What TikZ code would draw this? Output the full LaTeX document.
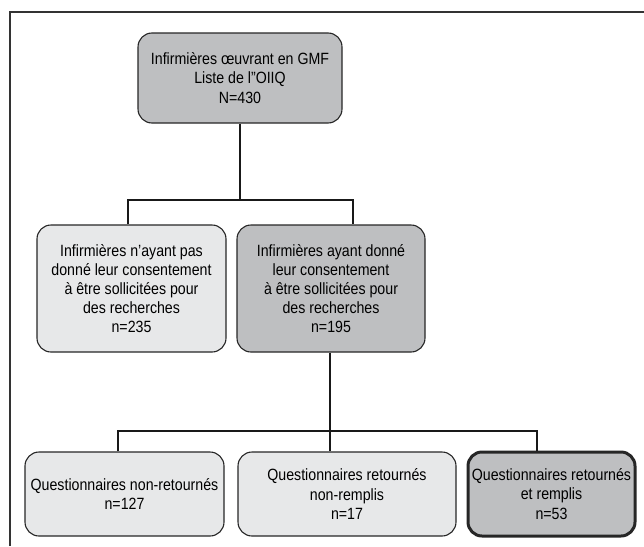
\documentclass[tikz,border=0pt]{standalone}
\usepackage{fontspec}
\setmainfont{Liberation Sans}[FakeStretch=0.87]
\usepackage{tikz}
\usetikzlibrary{positioning}
\definecolor{boxdark}{RGB}{190,191,193}
\definecolor{boxlight}{RGB}{231,232,233}
\tikzset{
  flowbox/.style={draw=black!85, line width=1.1pt, rounded corners=14pt, align=center,
    inner sep=2pt, font=\fontsize{16.3}{19.2}\selectfont},
  darkbox/.style={flowbox, fill=boxdark},
  lightbox/.style={flowbox, fill=boxlight},
  link/.style={draw=black!90, line width=2.6pt}
}
\begin{document}
\begin{tikzpicture}[x=1pt,y=-1pt]
    \useasboundingbox (0,0) rectangle (644,546);
    % cadre
    \draw[black!80, line width=1.4pt] (10,546) -- (10,12) -- (644,12);
    % boites
    \node[darkbox, minimum width=204pt, minimum height=90pt] (gmf) at (240,78)
      {Infirmières œuvrant en GMF\\Liste de l”OIIQ\\N=430};
    \node[lightbox, minimum width=189pt, minimum height=127pt] (refus) at (131.5,288.5)
      {Infirmières n’ayant pas\\donné leur consentement\\à être sollicitées pour\\des recherches\\n=235};
    \node[darkbox, minimum width=188pt, minimum height=127pt] (accord) at (331,288.5)
      {Infirmières ayant donné\\leur consentement\\à être sollicitées pour\\des recherches\\n=195};
    \node[lightbox, minimum width=199pt, minimum height=84pt] (nonret) at (124.5,494)
      {Questionnaires non-retournés\\n=127};
    \node[lightbox, minimum width=218pt, minimum height=84pt] (nonrem) at (347,494)
      {Questionnaires retournés\\non-remplis\\n=17};
    \node[darkbox, line width=3pt, minimum width=167pt, minimum height=84pt] (rempl) at (551.5,494)
      {Questionnaires retournés\\et remplis\\n=53};
    % embranchements
    \coordinate (b1) at (240,200);
    \coordinate (b1l) at (128,200);
    \coordinate (b1r) at (353,200);
    \coordinate (b2) at (330,431);
    \coordinate (b2l) at (118,431);
    \coordinate (b2m) at (330,431);
    \coordinate (b2r) at (537,431);
    \draw[link] (gmf.south) -- (b1);
    \draw[link] (b1l |- refus.north) -- (b1l) -- (b1r) -- (b1r |- accord.north);
    \draw[link] (b2 |- accord.south) -- (b2);
    \draw[link] (b2l |- nonret.north) -- (b2l) -- (b2r) -- (b2r |- rempl.north);
    \draw[link] (b2m) -- (b2m |- nonrem.north);
\end{tikzpicture}
\end{document}
